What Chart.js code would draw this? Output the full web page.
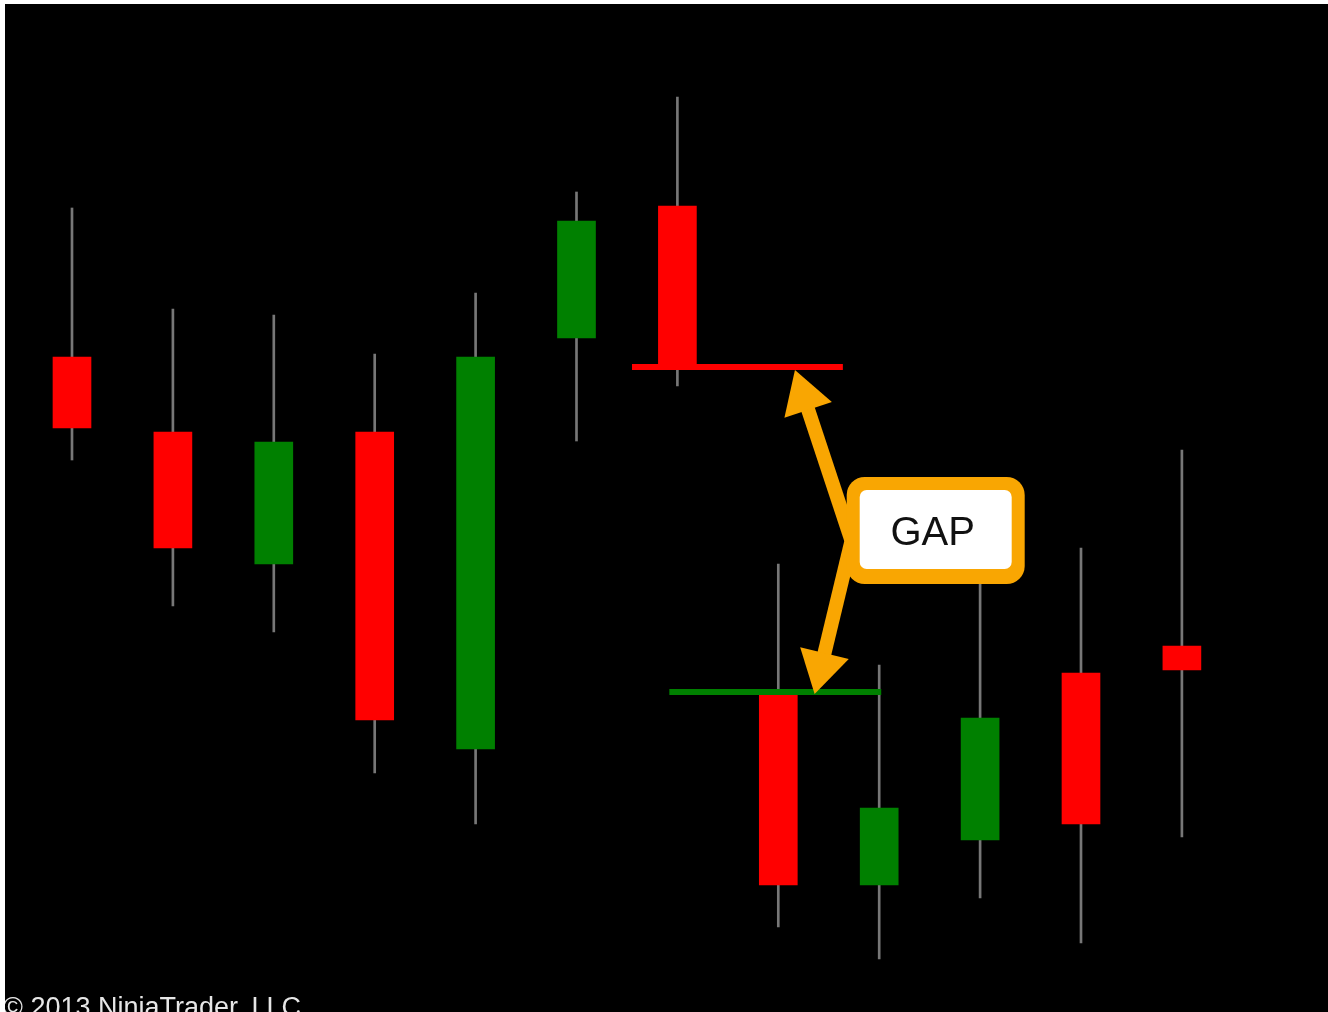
<!DOCTYPE html>
<html>
<head>
<meta charset="utf-8">
<script src="https://cdn.jsdelivr.net/npm/chart.js@4"></script>
<style>
html,body{margin:0;padding:0;background:#fff;}
#wrap{position:absolute;left:5px;top:4px;width:1323px;height:1008px;background:#000;}
</style>
</head>
<body>
<div id="wrap"><canvas id="chart"></canvas></div>
<script>
// candle data (price units)
const bars=[1,2,3,4,5,6,7,8,9,10,11,12];
const opens =[163.75,145,112,145,65.75,168.5,201.5,79.25,31.75,43,84.75,91.5];
const highs =[201,175.75,174.25,164.5,179.75,205,228.75,112,86.75,113,116,140.5];
const lows  =[138,101.5,95,59.75,47,142.75,156.5,21.25,13.25,28.5,17.25,43.75];
const closes=[146,116,142.5,73,163.75,197.75,161.25,31.75,51,73.5,47,85.5];
// gap between bar 7 close and bar 8 open
const gapTop=closes[6],gapBottom=opens[7];
const gapLabel='GAP';
const copyright='\u00A9 2013 NinjaTrader, LLC';

const UP='#008000',DOWN='#ff0000',WICK='#777777',ORANGE='#f9a602';

function arrow(ctx,x1,y1,x2,y2){
  // shaft from (x1,y1) to tip (x2,y2) with filled head
  const a=Math.atan2(y2-y1,x2-x1),len=42,hw=25;
  const bx=x2-Math.cos(a)*len,by=y2-Math.sin(a)*len;
  ctx.strokeStyle=ORANGE;ctx.lineWidth=14;ctx.lineCap='butt';
  ctx.beginPath();ctx.moveTo(x1,y1);ctx.lineTo(bx+Math.cos(a)*4,by+Math.sin(a)*4);ctx.stroke();
  ctx.fillStyle=ORANGE;ctx.beginPath();
  ctx.moveTo(x2,y2);
  ctx.lineTo(bx+Math.sin(a)*hw,by-Math.cos(a)*hw);
  ctx.lineTo(bx-Math.sin(a)*hw,by+Math.cos(a)*hw);
  ctx.closePath();ctx.fill();
}

function rrect(ctx,x,y,w,h,r){
  ctx.beginPath();
  ctx.moveTo(x+r,y);ctx.arcTo(x+w,y,x+w,y+h,r);ctx.arcTo(x+w,y+h,x,y+h,r);
  ctx.arcTo(x,y+h,x,y,r);ctx.arcTo(x,y,x+w,y,r);ctx.closePath();
}

const gapPlugin={
  id:'gap',
  afterDatasetsDraw(chart){
    const ctx=chart.ctx,xs=chart.scales.x,ys=chart.scales.y;
    ctx.save();
    // gap levels
    ctx.lineWidth=6;
    ctx.strokeStyle=DOWN;ctx.beginPath();
    ctx.moveTo(xs.getPixelForValue(6.55),ys.getPixelForValue(gapTop));
    ctx.lineTo(xs.getPixelForValue(8.64),ys.getPixelForValue(gapTop));ctx.stroke();
    ctx.strokeStyle=UP;ctx.beginPath();
    ctx.moveTo(xs.getPixelForValue(6.92),ys.getPixelForValue(gapBottom+0.75));
    ctx.lineTo(xs.getPixelForValue(9.02),ys.getPixelForValue(gapBottom+0.75));ctx.stroke();
    // arrows from callout to the two levels (both leave the box's left side)
    const jx=xs.getPixelForValue(8.72),jy=ys.getPixelForValue((gapTop+gapBottom)/2);
    arrow(ctx,jx,jy+8,xs.getPixelForValue(8.165),ys.getPixelForValue(gapTop)+3);
    arrow(ctx,jx+2,jy+4,xs.getPixelForValue(8.36),ys.getPixelForValue(gapBottom)-1);
    // callout box
    const cx=xs.getPixelForValue(9.56),cy=jy-1;
    ctx.fillStyle=ORANGE;rrect(ctx,cx-89,cy-53,178,107,18);ctx.fill();
    ctx.fillStyle='#fff';rrect(ctx,cx-76,cy-40,152,79,7);ctx.fill();
    ctx.fillStyle='#111';ctx.font='40px "Liberation Sans",Arial,sans-serif';
    ctx.textAlign='center';ctx.textBaseline='middle';
    ctx.fillText(gapLabel,cx-3,cy+4);
    // copyright at bottom edge
    ctx.fillStyle='#e6e6e6';ctx.font='27px "Liberation Sans",Arial,sans-serif';
    ctx.textAlign='left';ctx.textBaseline='top';
    ctx.fillText(copyright,-2,991);
    ctx.restore();
  }
};

new Chart(document.getElementById('chart'),{
  type:'bar',
  data:{datasets:[
    {label:'body',order:0,barThickness:38,borderWidth:0,
     data:bars.map((b,i)=>({x:b,y:[opens[i],closes[i]]})),
     backgroundColor:bars.map((b,i)=>closes[i]>=opens[i]?UP:DOWN)},
    {label:'wick',order:1,barThickness:2,borderWidth:0,backgroundColor:WICK,
     data:bars.map((b,i)=>({x:b,y:[lows[i],highs[i]]}))}
  ]},
  options:{
    responsive:true,maintainAspectRatio:false,animation:false,
    layout:{padding:0},
    datasets:{bar:{grouped:false}},
    plugins:{legend:{display:false},tooltip:{enabled:false}},
    scales:{
      x:{type:'linear',min:0.336,max:13.448,offset:false,display:false},
      y:{min:0,max:252,display:false}
    }
  },
  plugins:[gapPlugin]
});
</script>
</body>
</html>
